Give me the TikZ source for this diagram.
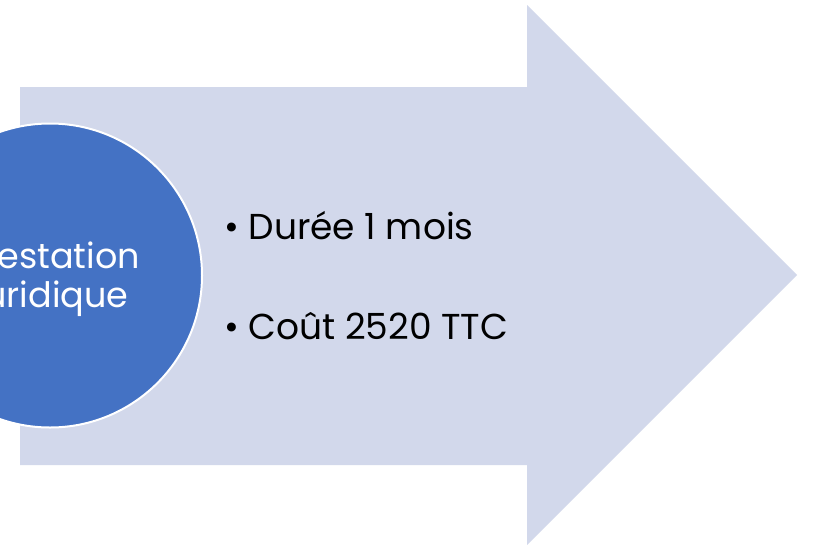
\documentclass[tikz,border=0pt]{standalone}
\usepackage{fontspec}
\setmainfont{Poppins}
\definecolor{arrowfill}{HTML}{D2D8EB}
\definecolor{circfill}{HTML}{4472C4}
\begin{document}
\begin{tikzpicture}[x=1pt,y=-1pt,
  bullettext/.style={anchor=base west,inner sep=0pt,font=\fontsize{36}{42}\selectfont,text=black},
  circtext/.style={anchor=base,inner sep=0pt,font=\fontsize{35}{41}\selectfont,text=white}]
\useasboundingbox (0,0) rectangle (813,544);
\clip (0,0) rectangle (813,544);
\fill[white] (0,0) rectangle (813,544);
% arrow
\fill[arrowfill] (20,87) -- (527,87) -- (527,5) -- (797,275) -- (527,545) -- (527,465) -- (20,465) -- cycle;
% circle
\node[circle,fill=circfill,draw=white,line width=2pt,minimum size=304pt,inner sep=0pt] (c) at (50,275.5) {};
\node[circtext] (t1) at (52,268) {Prestation};
\node[circtext] (t2) at (52,307) {juridique};
% bullets
\node[bullettext] (b1) at (224,239) {• Durée 1 mois};
\node[bullettext] (b2) at (224,339) {• Coût 2520 TTC};
\end{tikzpicture}
\end{document}
